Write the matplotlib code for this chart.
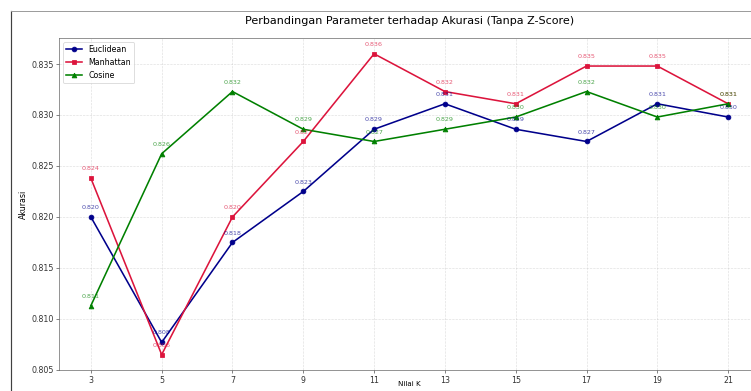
import matplotlib
matplotlib.use("Agg")
import matplotlib.pyplot as plt
from matplotlib.lines import Line2D

# Nilai K yang diuji
k_values = [3, 5, 7, 9, 11, 13, 15, 17, 19, 21]

# Akurasi per metrik jarak (tanpa normalisasi Z-Score)
acc_euclidean = [0.8200, 0.8077, 0.8175, 0.8225, 0.8286, 0.8311, 0.8286, 0.8274, 0.8311, 0.8298]
acc_manhattan = [0.8238, 0.8065, 0.8200, 0.8274, 0.8360, 0.8323, 0.8311, 0.8348, 0.8348, 0.8311]
acc_cosine = [0.8113, 0.8262, 0.8323, 0.8286, 0.8274, 0.8286, 0.8298, 0.8323, 0.8298, 0.8311]

series = [
    ("Euclidean", acc_euclidean, "darkblue", "o"),
    ("Manhattan", acc_manhattan, "crimson", "s"),
    ("Cosine", acc_cosine, "green", "^"),
]

DPI = 57
fig = plt.figure(figsize=(751 / DPI, 391 / DPI), dpi=DPI)
W, H = 751, 391
ax = fig.add_axes([59 / W, 1 - 370 / H, (760 - 59) / W, (370 - 38) / H])

for name, vals, color, marker in series:
    ax.plot(k_values, vals, marker=marker, color=color, label=name,
            linewidth=2, markersize=6)
    for k, v in zip(k_values, vals):
        ax.annotate(f"{v:.3f}", (k, v), textcoords="offset points",
                    xytext=(0, 10), ha="center", fontsize=8,
                    color=color, alpha=0.7)

ax.set_title("Perbandingan Parameter terhadap Akurasi (Tanpa Z-Score)",
             fontsize=14, pad=18)
ax.set_xlabel("Nilai K", fontsize=9)
ax.xaxis.set_label_coords(0.5, -0.034)
ax.set_ylabel("Akurasi", fontsize=10)
ax.set_xticks(k_values)
ax.set_yticks([0.805, 0.810, 0.815, 0.820, 0.825, 0.830, 0.835])
ax.yaxis.set_major_formatter(matplotlib.ticker.FormatStrFormatter("%.3f"))
ax.set_xlim(2.1, 21.9)
ax.set_ylim(0.80499, 0.83755)
ax.grid(True, linestyle="--", alpha=0.4)
ax.legend(loc="upper left", fontsize=10)
for s in ax.spines.values():
    s.set_color("0.35")
ax.tick_params(colors="0.25", labelcolor="0.2")

# frame lines along the top and left edge of the canvas
fig.add_artist(Line2D([11 / W, 11 / W], [0, 1 - 11 / H], transform=fig.transFigure,
                      color="0.25", linewidth=1.5))
fig.add_artist(Line2D([11 / W, 1], [1 - 11 / H, 1 - 11 / H], transform=fig.transFigure,
                      color="0.6", linewidth=1.2))

fig.savefig("out.png", dpi=DPI)
